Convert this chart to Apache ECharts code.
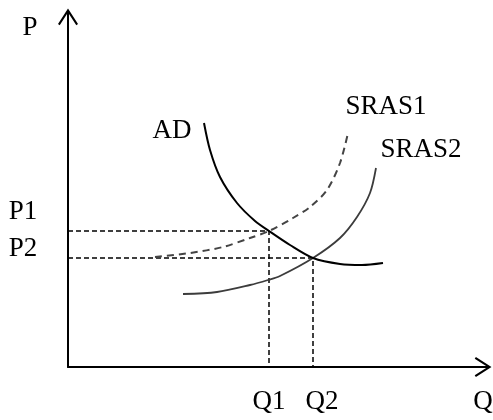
<!DOCTYPE html>
<html>
<head>
<meta charset="utf-8">
<script src="https://cdn.jsdelivr.net/npm/echarts@6/dist/echarts.min.js"></script>
<style>
  html, body { margin: 0; padding: 0; background: #fff; }
  #container { width: 493px; height: 420px; }
</style>
</head>
<body>
<div id="container"></div>
<script>
var dom = document.getElementById('container');
var myChart = echarts.init(dom, null, { renderer: 'canvas' });

// curve points (x = quantity, y = price)
var adCurve = [[136, 244], [142, 217], [152, 190], [169, 164], [187, 146], [201, 136], [222, 122], [245, 109], [272, 103], [294, 102], [315, 104]];
var sras1Curve = [[87, 110], [122, 114], [155, 120], [182, 129], [201, 136], [225, 149], [242, 160], [259, 177], [272, 204], [280, 234]];
var sras2Curve = [[115, 73], [149, 75], [182, 82], [200, 87], [212, 91], [245, 109], [272, 129], [289, 150], [302, 174], [308, 199]];

// equilibrium levels
var priceLevels = [136, 109];    // P1, P2
var quantityLevels = [201, 245]; // Q1, Q2

var FONT = '"Liberation Serif", "Times New Roman", serif';
var arrowPath = 'path://M10 0 L20 15.6 L18.3 16.8 L11 5.4 L11 17 L9 17 L9 5.4 L1.7 16.8 L0 15.6 Z';

function guide(i) {
    return [[0, priceLevels[i]], [quantityLevels[i], priceLevels[i]], [quantityLevels[i], 0]];
}

function label(text, x, y) {
    return {
        type: 'text', x: x, y: y,
        style: { text: text, font: '27px ' + FONT, fill: '#000', align: 'center', verticalAlign: 'middle' }
    };
}

var option = {
    animation: false,
    backgroundColor: '#fff',
    grid: { left: 68, right: 10, top: 17, bottom: 53 },
    xAxis: {
        type: 'value', min: 0, max: 415,
        splitLine: { show: false }, axisTick: { show: false }, axisLabel: { show: false },
        axisLine: { lineStyle: { color: '#000', width: 2 }, symbol: ['none', arrowPath], symbolSize: [20, 17] }
    },
    yAxis: {
        type: 'value', min: 0, max: 350,
        splitLine: { show: false }, axisTick: { show: false }, axisLabel: { show: false },
        axisLine: { lineStyle: { color: '#000', width: 2 }, symbol: ['none', arrowPath], symbolSize: [20, 17] }
    },
    graphic: [
        label('P', 30, 28),
        label('P1', 23, 212),
        label('P2', 23, 249),
        label('Q1', 269, 402),
        label('Q2', 322, 402),
        label('Q', 483, 402),
        label('AD', 172, 131),
        label('SRAS1', 386, 107),
        label('SRAS2', 421, 150)
    ],
    series: [
        {
            type: 'line', data: guide(0), showSymbol: false, silent: true,
            lineStyle: { color: '#000', width: 1.5, type: [5, 3] }
        },
        {
            type: 'line', data: guide(1), showSymbol: false, silent: true,
            lineStyle: { color: '#000', width: 1.5, type: [5, 3] }
        },
        {
            name: 'SRAS1', type: 'line', data: sras1Curve, smooth: 0.3, showSymbol: false,
            lineStyle: { color: '#444', width: 2, type: [7, 5] }
        },
        {
            name: 'SRAS2', type: 'line', data: sras2Curve, smooth: 0.3, showSymbol: false,
            lineStyle: { color: '#3c3c3c', width: 1.8 }
        },
        {
            name: 'AD', type: 'line', data: adCurve, smooth: 0.3, showSymbol: false,
            lineStyle: { color: '#000', width: 2 }
        }
    ]
};

myChart.setOption(option);
window.addEventListener('resize', myChart.resize);
</script>
</body>
</html>
